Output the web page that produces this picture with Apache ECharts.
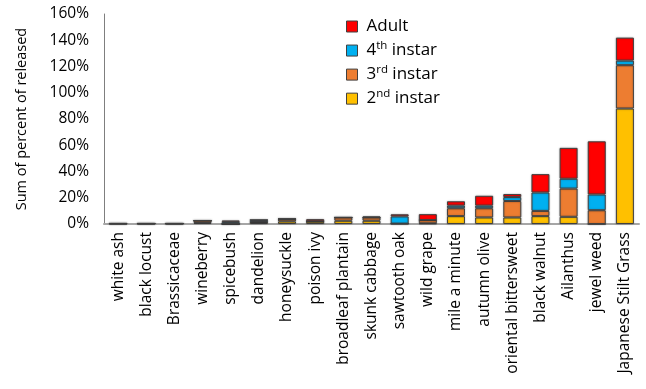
<!DOCTYPE html>
<html>
<head>
<meta charset="utf-8">
<script src="https://cdn.jsdelivr.net/npm/echarts@6/dist/echarts.min.js"></script>
<style>html,body{margin:0;padding:0;background:#fff}#c{width:646px;height:389px}</style>
</head>
<body>
<div id="c"></div>
<script>
const categories = ['white ash','black locust','Brassicaceae','wineberry','spicebush','dandelion','honeysuckle','poison ivy','broadleaf plantain','skunk cabbage','sawtooth oak','wild grape','mile a minute','autumn olive','oriental bittersweet','black walnut','Ailanthus','jewel weed','Japanese Stilt Grass'];
const instar2 = [0.2, 0.2, 0.2, 0.8, 0, 1.5, 2.0, 1.8, 2.5, 2.5, 0.3, 0.5, 6, 5, 5, 6, 5.5, 0, 88];
const instar3 = [0.2, 0.2, 0.2, 1.8, 0, 0, 1.8, 0.3, 2.5, 2.5, 0, 2.5, 6, 7, 12.5, 4, 21.5, 10.5, 33];
const instar4 = [0, 0, 0, 0, 1.6, 1.6, 0, 0, 0, 0, 5.5, 0, 2, 2, 3, 14, 7.5, 12, 3.5];
const adult   = [0, 0, 0, 0, 1.1, 0, 0, 1.6, 0, 0.7, 1.6, 4.5, 3.3, 7.5, 2.3, 14, 23.5, 40.5, 17.5];
const yTicks = [0, 20, 40, 60, 80, 100, 120, 140, 160];

const FONT = 'Open Sans';
const legendLabels = {
  'Adult': '{n|Adult}',
  '4th instar': '{n|4}{s|th}{n| instar}',
  '3rd instar': '{n|3}{s|rd}{n| instar}',
  '2nd instar': '{n|2}{s|nd}{n| instar}'
};
const barStyle = c => ({color: c, borderColor: '#404040', borderWidth: 1, shadowColor: 'rgba(0,0,0,0.25)', shadowBlur: 2});
function mk(name, data, color) {
  return {name, type: 'bar', stack: 'a', data, barWidth: 18, itemStyle: barStyle(color), animation: false};
}
const chart = echarts.init(document.getElementById('c'), null, {renderer: 'canvas'});
chart.setOption({
  backgroundColor: '#fff',
  textStyle: {fontFamily: FONT},
  grid: {left: 104, right: 7, top: 14, bottom: 165, containLabel: false},
  legend: {
    orient: 'vertical', left: 341, top: 13, itemGap: 4.3, itemWidth: 11, itemHeight: 11,
    icon: 'rect',
    data: ['Adult', '4th instar', '3rd instar', '2nd instar'],
    formatter: n => legendLabels[n],
    itemStyle: {borderColor: '#404040', borderWidth: 1},
    textStyle: {
      fontFamily: FONT, color: '#000', padding: [0, 0, 0, 4],
      rich: {
        n: {fontFamily: FONT, fontSize: 17, lineHeight: 22.5, color: '#000'},
        s: {fontFamily: FONT, fontSize: 11.5, lineHeight: 15, verticalAlign: 'top', color: '#000'}
      }
    }
  },
  xAxis: {
    type: 'category', data: categories,
    axisLine: {lineStyle: {color: '#a6a6a6', width: 2}},
    axisTick: {show: false},
    axisLabel: {rotate: 90, interval: 0, margin: 8, fontSize: 15.5, color: '#000', fontFamily: FONT}
  },
  yAxis: {
    type: 'value', min: 0, max: 160, interval: 20,
    name: 'Sum of percent of released', nameLocation: 'middle', nameGap: 75,
    nameTextStyle: {fontSize: 14.5, color: '#000', fontFamily: FONT},
    axisLine: {show: true, lineStyle: {color: '#7f7f7f', width: 1}},
    axisTick: {show: false},
    splitLine: {show: false},
    axisLabel: {fontSize: 15.5, color: '#000', margin: 15, fontFamily: FONT,
      formatter: v => yTicks.includes(v) ? v + '%' : ''}
  },
  series: [
    mk('2nd instar', instar2, '#FFC000'),
    mk('3rd instar', instar3, '#ED7D31'),
    mk('4th instar', instar4, '#00B0F0'),
    mk('Adult', adult, '#FF0000')
  ]
});
</script>
</body>
</html>
